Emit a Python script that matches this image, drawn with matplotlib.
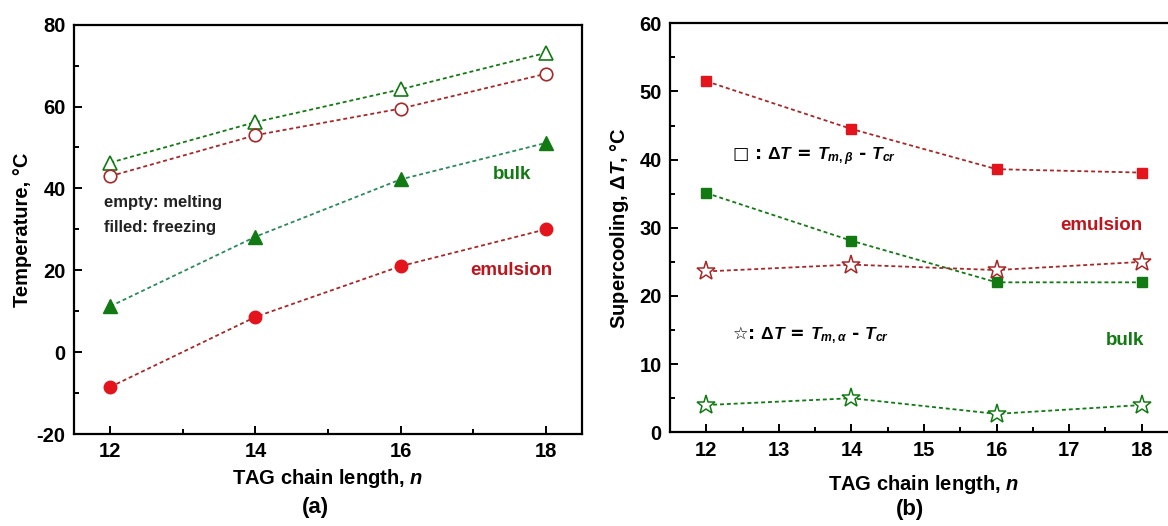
import matplotlib
matplotlib.use("Agg")
import matplotlib.pyplot as plt
from matplotlib.ticker import MultipleLocator

plt.rcParams['font.family'] = ['Liberation Sans', 'DejaVu Sans']
plt.rcParams['font.weight'] = 'bold'
plt.rcParams['axes.unicode_minus'] = False
plt.rcParams['mathtext.fontset'] = 'custom'
plt.rcParams['mathtext.rm'] = 'Liberation Sans:bold'
plt.rcParams['mathtext.it'] = 'Liberation Sans:italic:bold'
plt.rcParams['mathtext.bf'] = 'Liberation Sans:bold'

# ---- data ----
n_values = [12, 14, 16, 18]
# panel (a): temperatures (°C)
bulk_melting = [46.3, 56.2, 64.2, 73.1]
emulsion_melting = [43.0, 53.0, 59.5, 68.0]
bulk_freezing = [11.2, 28.2, 42.2, 51.1]
emulsion_freezing = [-8.5, 8.6, 21.0, 30.0]
# panel (b): supercooling (°C)
emul_dT_beta = [51.5, 44.5, 38.6, 38.1]
bulk_dT_beta = [35.1, 28.1, 22.0, 22.0]
emul_dT_alpha = [23.6, 24.6, 23.8, 25.0]
bulk_dT_alpha = [4.0, 5.0, 2.7, 4.0]

W, H = 1168, 526
fig = plt.figure(figsize=(W / 100, H / 100), dpi=100)

def fx(px):
    return px / W

def fy(py):
    return 1 - py / H

RED = '#e3141c'
DRED = '#a82828'
GREEN = '#127a12'
LS = (0, (2.2, 1.6))

ax1 = fig.add_axes([fx(74), fy(434), fx(582) - fx(74), fy(24.7) - fy(434)])
ax2 = fig.add_axes([fx(670), fy(432.3), fx(1178) - fx(670), fy(23.3) - fy(432.3)])

for ax in (ax1, ax2):
    for s in ax.spines.values():
        s.set_linewidth(1.6)
    ax.tick_params(which='both', direction='in', top=False, right=False,
                   width=1.4, labelsize=14.5, pad=6)
    ax.tick_params(which='major', length=5.5)
    ax.tick_params(which='minor', length=3.5)

# ---- panel (a) ----
ax1.plot(n_values, bulk_melting, color=GREEN, ls=LS, lw=1.3, marker='^', ms=10,
         mfc='white', mec=GREEN, mew=1.2)
ax1.plot(n_values, emulsion_melting, color=DRED, ls=LS, lw=1.3, marker='o', ms=9,
         mfc='white', mec=DRED, mew=1.2)
ax1.plot(n_values, bulk_freezing, color='#2a8a5a', ls=LS, lw=1.3, marker='^', ms=10,
         mfc=GREEN, mec=GREEN, mew=1.0)
ax1.plot(n_values, emulsion_freezing, color=DRED, ls=LS, lw=1.3, marker='o', ms=9,
         mfc=RED, mec=RED, mew=1.0)
ax1.set_xlim(11.5, 18.5)
ax1.set_ylim(-20, 80)
ax1.xaxis.set_major_locator(MultipleLocator(2))
ax1.xaxis.set_minor_locator(MultipleLocator(1))
ax1.yaxis.set_major_locator(MultipleLocator(20))
ax1.yaxis.set_minor_locator(MultipleLocator(10))
ax1.set_ylabel('Temperature, °C', fontsize=14.5, fontweight='bold')
ax1.yaxis.set_label_coords(-0.083, 0.5)
ax1.text(17.54, 43.3, 'bulk', color=GREEN, fontsize=13.5, fontweight='bold',
         ha='center', va='center')
ax1.text(17.52, 20.0, 'emulsion', color='#c0141c', fontsize=13.5, fontweight='bold',
         ha='center', va='center')
ax1.text(11.92, 36.6, 'empty: melting', color='#222222', fontsize=12,
         fontweight='bold', ha='left', va='center')
ax1.text(11.92, 30.5, 'filled: freezing', color='#222222', fontsize=12,
         fontweight='bold', ha='left', va='center')
fig.text(fx(328), fy(479), 'TAG chain length, $\\mathit{n}$', fontsize=14.5,
         fontweight='bold', ha='center', va='center')
fig.text(fx(315), fy(507), '(a)', fontsize=16, fontweight='bold',
         ha='center', va='center')

# ---- panel (b) ----
ax2.plot(n_values, emul_dT_beta, color=DRED, ls=LS, lw=1.3, marker='s', ms=7.5,
         mfc=RED, mec=RED, mew=1.0)
ax2.plot(n_values, bulk_dT_beta, color=GREEN, ls=LS, lw=1.3, marker='s', ms=7.5,
         mfc=GREEN, mec=GREEN, mew=1.0)
ax2.plot(n_values, emul_dT_alpha, color=DRED, ls=LS, lw=1.3, marker='*', ms=14,
         mfc='white', mec=DRED, mew=1.1)
ax2.plot(n_values, bulk_dT_alpha, color=GREEN, ls=LS, lw=1.3, marker='*', ms=14,
         mfc='white', mec=GREEN, mew=1.1)
ax2.set_xlim(11.5, 18.5)
ax2.set_ylim(0, 60)
ax2.xaxis.set_major_locator(MultipleLocator(1))
ax2.xaxis.set_minor_locator(MultipleLocator(0.5))
ax2.yaxis.set_major_locator(MultipleLocator(10))
ax2.yaxis.set_minor_locator(MultipleLocator(5))
ax2.set_ylabel('Supercooling, $\\Delta \\mathit{T}$, °C', fontsize=14.5,
               fontweight='bold')
ax2.yaxis.set_label_coords(-0.077, 0.5)
ax2.text(17.44, 30.4, 'emulsion', color='#c0141c', fontsize=13.5, fontweight='bold',
         ha='center', va='center')
ax2.text(17.77, 13.5, 'bulk', color=GREEN, fontsize=13.5, fontweight='bold',
         ha='center', va='center')
ax2.text(12.36, 40.4, '□ : $\\Delta T$ = $T_{m,\\beta}$ - $T_{cr}$', fontsize=12.5,
         fontweight='bold', ha='left', va='center',
         family=['DejaVu Sans', 'Liberation Sans'])
ax2.text(12.36, 14.3, '☆: $\\Delta T$ = $T_{m,\\alpha}$ - $T_{cr}$', fontsize=12.5,
         fontweight='bold', ha='left', va='center',
         family=['DejaVu Sans', 'Liberation Sans'])
fig.text(fx(924), fy(485), 'TAG chain length, $\\mathit{n}$', fontsize=14.5,
         fontweight='bold', ha='center', va='center')
fig.text(fx(910), fy(509), '(b)', fontsize=16, fontweight='bold',
         ha='center', va='center')

fig.savefig('out.png', dpi=100)
